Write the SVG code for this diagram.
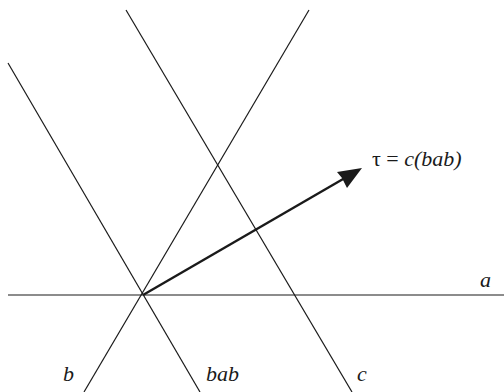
<svg xmlns="http://www.w3.org/2000/svg" width="504" height="392" viewBox="0 0 504 392">
<style>
.ln{stroke:#1a1a1a;stroke-width:1.2;fill:none}
.t{font-family:"Liberation Serif","DejaVu Serif",serif;font-style:italic;font-size:22px;fill:#1a1a1a}
</style>
<rect width="504" height="392" fill="#fff"/>
<g id="connectors">
<line id="a" class="ln" x1="8" y1="295" x2="504" y2="295"/>
<line id="b" class="ln" x1="84" y1="392" x2="309" y2="10"/>
<line id="bab" class="ln" x1="8" y1="63" x2="200" y2="392"/>
<line id="c" class="ln" x1="126" y1="10" x2="352" y2="392"/>
<line id="tau" x1="143" y1="295" x2="350" y2="175" stroke="#1a1a1a" stroke-width="2.4"/>
<path d="M362,168 L337,172 L342,178 L347,188 Z" fill="#1a1a1a"/>
</g>
<g id="labels">
<text class="t" x="372" y="166"><tspan font-style="normal">τ = </tspan>c(bab)</text>
<text class="t" x="480" y="287">a</text>
<text class="t" x="63" y="381">b</text>
<text class="t" x="206" y="381">bab</text>
<text class="t" x="357" y="381">c</text>
</g>
</svg>
